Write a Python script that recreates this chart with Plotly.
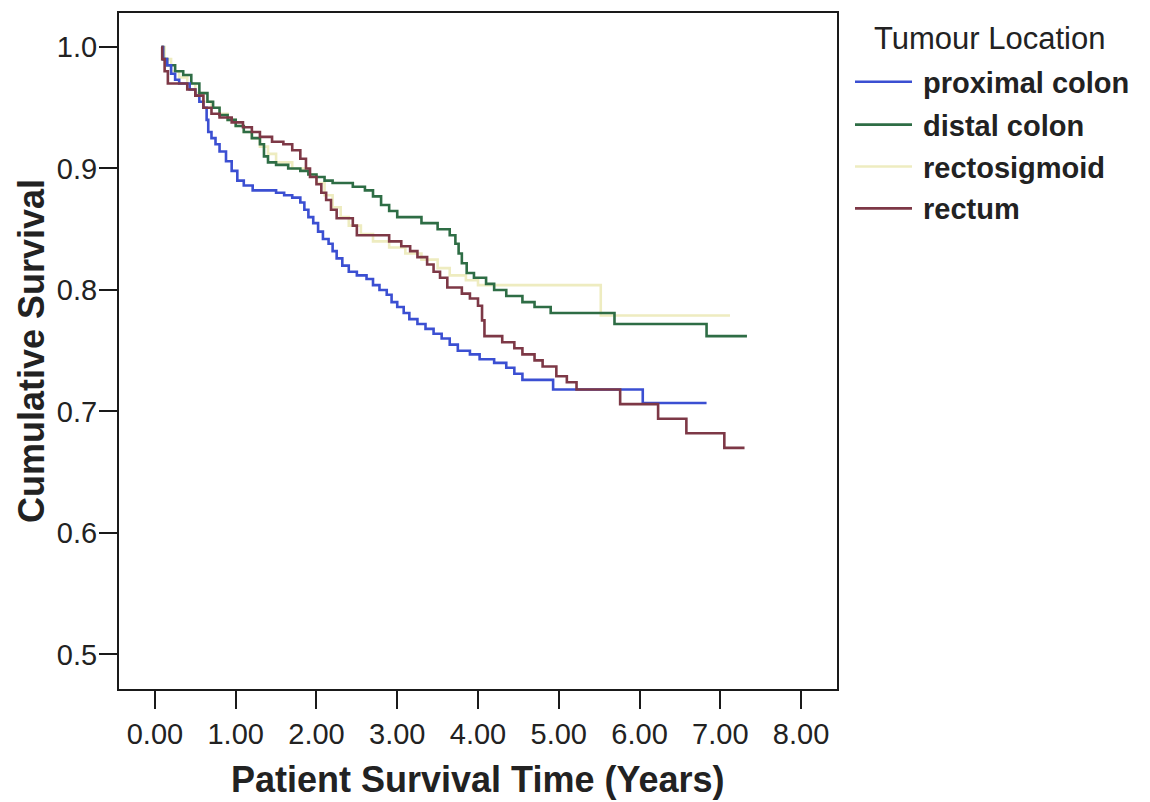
import plotly.graph_objects as go

# ---- data ----
groups = ["proximal colon", "distal colon", "rectosigmoid", "rectum"]

prox_t = [0.08, 0.10, 0.15, 0.20, 0.25, 0.30, 0.43, 0.50, 0.55, 0.60, 0.64, 0.66, 0.70, 0.75,
          0.80, 0.88, 0.95, 1.02, 1.10, 1.21, 1.50, 1.60, 1.70, 1.80, 1.85, 1.90, 1.96, 2.02,
          2.08, 2.15, 2.20, 2.25, 2.32, 2.40, 2.50, 2.62, 2.70, 2.78, 2.87, 2.93, 3.00, 3.08,
          3.15, 3.25, 3.35, 3.45, 3.55, 3.65, 3.75, 3.90, 4.02, 4.20, 4.35, 4.45, 4.55, 4.93,
          6.04, 6.83]
prox_s = [1.000, 0.990, 0.985, 0.978, 0.973, 0.970, 0.965, 0.960, 0.955, 0.950, 0.940, 0.930,
          0.925, 0.920, 0.914, 0.906, 0.898, 0.890, 0.886, 0.882, 0.880, 0.878, 0.876, 0.872,
          0.866, 0.860, 0.855, 0.848, 0.842, 0.838, 0.832, 0.826, 0.820, 0.815, 0.812, 0.809,
          0.804, 0.800, 0.796, 0.790, 0.786, 0.781, 0.776, 0.772, 0.768, 0.764, 0.760, 0.755,
          0.750, 0.747, 0.743, 0.740, 0.736, 0.731, 0.726, 0.718, 0.707, 0.707]

dist_t = [0.08, 0.10, 0.15, 0.25, 0.35, 0.45, 0.55, 0.65, 0.72, 0.80, 0.90, 1.00, 1.10, 1.20,
          1.30, 1.35, 1.40, 1.50, 1.65, 1.80, 1.90, 2.00, 2.10, 2.20, 2.45, 2.60, 2.70, 2.80,
          2.90, 3.00, 3.30, 3.50, 3.65, 3.72, 3.76, 3.80, 3.86, 3.95, 4.10, 4.20, 4.35, 4.55,
          4.70, 4.90, 5.69, 6.83, 7.33]
dist_s = [1.000, 0.990, 0.985, 0.980, 0.977, 0.970, 0.962, 0.955, 0.950, 0.944, 0.940, 0.935,
          0.930, 0.925, 0.920, 0.910, 0.905, 0.903, 0.900, 0.898, 0.895, 0.893, 0.890, 0.888,
          0.885, 0.882, 0.877, 0.870, 0.865, 0.860, 0.855, 0.850, 0.845, 0.838, 0.830, 0.822,
          0.814, 0.810, 0.805, 0.800, 0.795, 0.790, 0.786, 0.781, 0.772, 0.762, 0.762]

rsig_t = [0.08, 0.12, 0.20, 0.30, 0.40, 0.50, 0.60, 0.70, 0.80, 0.90, 1.00, 1.10, 1.20, 1.30,
          1.40, 1.50, 1.70, 1.90, 2.00, 2.10, 2.20, 2.30, 2.40, 2.55, 2.70, 2.90, 3.10, 3.30,
          3.50, 3.65, 3.85, 4.00, 5.52, 7.12]
rsig_s = [1.000, 0.990, 0.980, 0.975, 0.970, 0.962, 0.955, 0.950, 0.945, 0.940, 0.935, 0.930,
          0.925, 0.918, 0.912, 0.905, 0.900, 0.895, 0.888, 0.878, 0.868, 0.860, 0.853, 0.846,
          0.840, 0.835, 0.830, 0.825, 0.818, 0.812, 0.808, 0.804, 0.779, 0.779]

rect_t = [0.08, 0.09, 0.12, 0.16, 0.40, 0.50, 0.60, 0.70, 0.80, 0.95, 1.09, 1.20, 1.30, 1.45,
          1.59, 1.70, 1.80, 1.87, 1.92, 2.00, 2.06, 2.12, 2.18, 2.25, 2.45, 2.50, 2.90, 3.05,
          3.16, 3.25, 3.37, 3.45, 3.53, 3.62, 3.80, 3.90, 4.00, 4.05, 4.08, 4.30, 4.45, 4.55,
          4.70, 4.80, 4.97, 5.10, 5.22, 5.76, 6.23, 6.58, 7.05, 7.30]
rect_s = [1.000, 0.990, 0.980, 0.970, 0.965, 0.960, 0.950, 0.945, 0.942, 0.938, 0.934, 0.930,
          0.926, 0.922, 0.920, 0.915, 0.908, 0.900, 0.893, 0.887, 0.880, 0.874, 0.866, 0.859,
          0.853, 0.845, 0.840, 0.836, 0.832, 0.827, 0.821, 0.815, 0.810, 0.802, 0.797, 0.793,
          0.787, 0.775, 0.762, 0.757, 0.752, 0.747, 0.742, 0.737, 0.729, 0.724, 0.718, 0.706,
          0.694, 0.682, 0.670, 0.670]

x_ticks = [0, 1, 2, 3, 4, 5, 6, 7, 8]
x_ticktext = ["0.00", "1.00", "2.00", "3.00", "4.00", "5.00", "6.00", "7.00", "8.00"]
y_ticks = [0.5, 0.6, 0.7, 0.8, 0.9, 1.0]
y_ticktext = ["0.5", "0.6", "0.7", "0.8", "0.9", "1.0"]

colors = {
    "proximal colon": "#3b4fd2",
    "distal colon": "#2e6d45",
    "rectosigmoid": "#eeecc0",
    "rectum": "#7d3846",
}

series = {
    "proximal colon": (prox_t, prox_s),
    "distal colon": (dist_t, dist_s),
    "rectosigmoid": (rsig_t, rsig_s),
    "rectum": (rect_t, rect_s),
}

FONT = "Liberation Sans, Arial, sans-serif"
TXT = "#222222"

fig = go.Figure()
for name in ["rectosigmoid", "distal colon", "proximal colon", "rectum"]:
    t, s = series[name]
    fig.add_trace(go.Scatter(x=t, y=s, mode="lines", name=name,
                             line=dict(color=colors[name], width=2.6, shape="hv"),
                             showlegend=False))

# plot-area geometry in pixels
W, H = 1150, 802
L, R, T, B = 119, 837, 11, 689


def px(xp):
    return (xp - L) / (R - L)


def py(yp):
    return (B - yp) / (B - T)


# custom legend
fig.add_annotation(x=px(872), y=py(37), xref="paper", yref="paper", text="Tumour Location",
                   showarrow=False, xanchor="left", yanchor="middle",
                   font=dict(family=FONT, size=31, color=TXT))
leg_y = [80, 123, 165, 207]
for name, yy in zip(groups, leg_y):
    fig.add_shape(type="line", xref="paper", yref="paper", x0=px(855), x1=px(912),
                  y0=py(yy), y1=py(yy), line=dict(color=colors[name], width=2.6))
    fig.add_annotation(x=px(921), y=py(yy + 1), xref="paper", yref="paper", text=name,
                       showarrow=False, xanchor="left", yanchor="middle",
                       font=dict(family=FONT, size=29, color=TXT, weight="bold"))

# axis titles
fig.add_annotation(x=0.5, y=py(780), xref="paper", yref="paper",
                   text="Patient Survival Time (Years)", showarrow=False,
                   xanchor="center", yanchor="middle",
                   font=dict(family=FONT, size=36, color=TXT, weight="bold"))
fig.add_annotation(x=px(31), y=0.5, xref="paper", yref="paper",
                   text="Cumulative Survival", showarrow=False, textangle=-90,
                   xanchor="center", yanchor="middle",
                   font=dict(family=FONT, size=36, color=TXT, weight="bold"))

fig.update_layout(
    width=W, height=H,
    margin=dict(l=L, r=W - R, t=T, b=H - B, pad=0),
    paper_bgcolor="white", plot_bgcolor="white",
    showlegend=False,
    xaxis=dict(range=[-0.445, 8.445], tickvals=x_ticks, ticktext=x_ticktext,
               showgrid=False, zeroline=False, showline=True, mirror=True,
               linecolor="#1a1a1a", linewidth=2, ticks="outside", ticklen=18,
               tickwidth=1.5, tickcolor="#1a1a1a",
               tickfont=dict(family=FONT, size=29, color=TXT)),
    yaxis=dict(range=[0.4715, 1.028], tickvals=y_ticks, ticktext=y_ticktext,
               showgrid=False, zeroline=False, showline=True, mirror=True,
               linecolor="#1a1a1a", linewidth=2, ticks="outside", ticklen=18,
               tickwidth=1.5, tickcolor="#1a1a1a", ticklabelstandoff=-4,
               tickfont=dict(family=FONT, size=29, color=TXT)),
)

fig.write_html("out.html")
